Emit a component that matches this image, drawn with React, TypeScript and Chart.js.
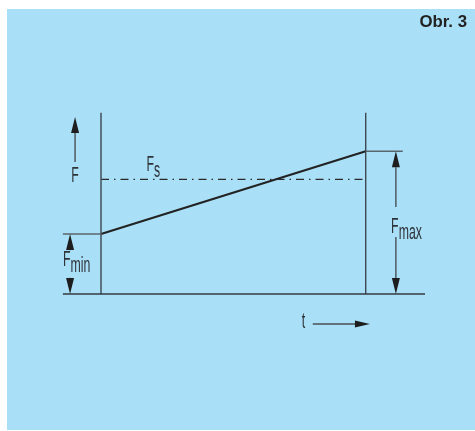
import React, { useEffect, useRef } from "react";
import { Chart, registerables } from "chart.js";

Chart.register(...registerables);

// ---- data (force F over time t) ----
const timePoints = [0, 1]; // start / end of the loading phase
const forceRamp = [1.0, 2.38]; // F rises from Fmin to Fmax
const staticForce = [1.91, 1.91]; // Fs (dash-dot)
const F_MIN = 1.0;
const F_MAX = 2.38;
const frameTop = 3.02; // height of the two vertical limit lines
const baselineT = [-0.144, 1.224];
const fMinExtT = [-0.144, 0];
const fMaxExtT = [1, 1.14];

const TEXT = "#2e3338";
const ARROW = "#1e1e1e";

function narrowText(
  ctx: CanvasRenderingContext2D,
  main: string,
  sub: string,
  x: number,
  yMid: number,
  align: "left" | "center"
) {
  const size = 22;
  const sx = 0.56;
  ctx.save();
  ctx.font = `${size}px "Liberation Sans", Arial, sans-serif`;
  ctx.fillStyle = TEXT;
  ctx.textBaseline = "alphabetic";
  const wMain = ctx.measureText(main).width * sx;
  const wSub = sub ? ctx.measureText(sub).width * sx : 0;
  const total = wMain + wSub;
  const left = align === "center" ? x - total / 2 : x;
  const base = yMid + size * 0.36;
  ctx.translate(left, base);
  ctx.scale(sx, 1);
  ctx.fillText(main, 0, 0);
  if (sub) ctx.fillText(sub, wMain / sx, 6);
  ctx.restore();
}

function arrow(
  ctx: CanvasRenderingContext2D,
  x1: number,
  y1: number,
  x2: number,
  y2: number,
  headLen = 16,
  halfW = 4
) {
  const dx = x2 - x1;
  const dy = y2 - y1;
  const len = Math.hypot(dx, dy);
  const ux = dx / len;
  const uy = dy / len;
  const bx = x2 - ux * headLen;
  const by = y2 - uy * headLen;
  ctx.save();
  ctx.strokeStyle = "#4a4f55";
  ctx.lineWidth = 1.4;
  if (len > headLen) {
    ctx.beginPath();
    ctx.moveTo(x1, y1);
    ctx.lineTo(bx, by);
    ctx.stroke();
  }
  ctx.fillStyle = ARROW;
  ctx.beginPath();
  ctx.moveTo(x2, y2);
  ctx.lineTo(bx - uy * halfW, by + ux * halfW);
  ctx.lineTo(bx + uy * halfW, by - ux * halfW);
  ctx.closePath();
  ctx.fill();
  ctx.restore();
}

const backgroundPlugin = {
  id: "bgPanel",
  beforeDraw(chart: any) {
    const { ctx, width, height } = chart;
    ctx.save();
    ctx.fillStyle = "#ffffff";
    ctx.fillRect(0, 0, width, height);
    ctx.fillStyle = "#a9e0f8";
    ctx.fillRect(7, 9, width - 7, height - 10);
    ctx.restore();
  },
};

const annotationPlugin = {
  id: "annotations",
  afterDatasetsDraw(chart: any) {
    const { ctx } = chart;
    const xs = chart.scales.x;
    const ys = chart.scales.y;
    const X = (v: number) => xs.getPixelForValue(v);
    const Y = (v: number) => ys.getPixelForValue(v);

    // F axis arrow + label
    arrow(ctx, X(-0.098), Y(2.2), X(-0.098), Y(2.95));
    narrowText(ctx, "F", "", X(-0.098), Y(2.0), "center");

    // Fs label
    narrowText(ctx, "F", "s", X(0.172), Y(2.18), "left");

    // Fmin dimension
    arrow(ctx, X(-0.117), Y(F_MIN - 0.27), X(-0.117), Y(F_MIN));
    arrow(ctx, X(-0.117), Y(0.27), X(-0.117), Y(0));
    narrowText(ctx, "F", "min", X(-0.144), Y(0.6), "left");

    // Fmax dimension
    arrow(ctx, X(1.114), Y(1.45), X(1.114), Y(F_MAX));
    arrow(ctx, X(1.114), Y(0.95), X(1.114), Y(0));
    narrowText(ctx, "F", "max", X(1.096), Y(1.15), "left");

    // time arrow + label
    arrow(ctx, X(0.8), Y(-0.5), X(1.016), Y(-0.5), 15, 3.6);
    narrowText(ctx, "t", "", X(0.765), Y(-0.44), "center");

    // figure caption
    ctx.save();
    ctx.font = 'bold 16px "Liberation Sans", Arial, sans-serif';
    ctx.fillStyle = "#222222";
    ctx.textBaseline = "alphabetic";
    const sx = 1.05;
    const w = ctx.measureText("Obr. 3").width * sx;
    ctx.translate(chart.width - 8 - w, 27);
    ctx.scale(sx, 1);
    ctx.fillText("Obr. 3", 0, 0);
    ctx.restore();
  },
};

function seg(xsArr: number[], ysArr: number[]) {
  return xsArr.map((x, i) => ({ x, y: ysArr[i] }));
}

export default function App() {
  const ref = useRef<HTMLCanvasElement | null>(null);

  useEffect(() => {
    if (!ref.current) return;
    const base = {
      showLine: true,
      pointRadius: 0,
      pointHoverRadius: 0,
      tension: 0,
      fill: false,
    };
    const chart = new Chart(ref.current, {
      type: "scatter",
      data: {
        datasets: [
          {
            ...base,
            label: "baseline",
            data: seg(baselineT, [0, 0]),
            borderColor: "#333a40",
            borderWidth: 1.6,
          },
          {
            ...base,
            label: "start",
            data: seg([timePoints[0], timePoints[0]], [0, frameTop]),
            borderColor: "#4a5862",
            borderWidth: 1.6,
          },
          {
            ...base,
            label: "end",
            data: seg([timePoints[1], timePoints[1]], [0, frameTop]),
            borderColor: "#3d4850",
            borderWidth: 1.4,
          },
          {
            ...base,
            label: "Fmin ext",
            data: seg(fMinExtT, [F_MIN, F_MIN]),
            borderColor: "#5a666e",
            borderWidth: 1.4,
          },
          {
            ...base,
            label: "Fmax ext",
            data: seg(fMaxExtT, [F_MAX, F_MAX]),
            borderColor: "#5a666e",
            borderWidth: 1.4,
          },
          {
            ...base,
            label: "Fs",
            data: seg(timePoints, staticForce),
            borderColor: "#2a2a2a",
            borderWidth: 1.2,
            borderDash: [8, 5, 1.5, 5],
          },
          {
            ...base,
            label: "F(t)",
            data: seg(timePoints, forceRamp),
            borderColor: "#222222",
            borderWidth: 2.2,
          },
        ],
      },
      options: {
        animation: false,
        responsive: false,
        events: [],
        layout: { padding: 0 },
        plugins: {
          legend: { display: false },
          tooltip: { enabled: false },
        },
        scales: {
          x: { type: "linear", display: false, min: -0.3816, max: 1.4129 },
          y: { type: "linear", display: false, min: -2.283, max: 4.9 },
        },
      },
      plugins: [backgroundPlugin, annotationPlugin],
    });
    return () => chart.destroy();
  }, []);

  return (
    <div style={{ position: "absolute", left: 0, top: 0, width: 475, height: 431 }}>
      <canvas ref={ref} width={475} height={431} style={{ display: "block" }} />
    </div>
  );
}
